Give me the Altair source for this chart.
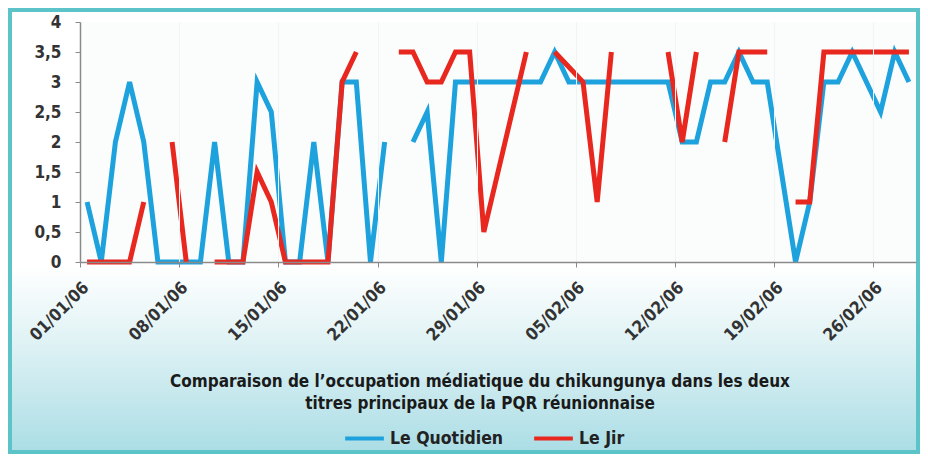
import altair as alt
import pandas as pd

# ---- data (one value per day, 01/01/06 .. 28/02/06) ----
start_day = "2006-01-01"
n_days = 59
quotidien = [1, 0, 2, 3, 2, 0, 0, 0, 0, 2,
             0, 0, 3, 2.5, 0, 0, 2, 0, 3, 3,
             0, 2, None, 2, 2.5, 0, 3, 3, 3, 3,
             3, 3, 3, 3.5, 3, 3, 3, 3, 3, 3,
             3, 3, 2, 2, 3, 3, 3.5, 3, 3, 1.5,
             0, 1, 3, 3, 3.5, 3, 2.5, 3.5, 3]
jir = [0, 0, 0, 0, 1, None, 2, 0, None, 0,
       0, 0, 1.5, 1, 0, 0, 0, 0, 3, 3.5,
       None, None, 3.5, 3.5, 3, 3, 3.5, 3.5, 0.5, 1.5,
       2.5, 3.5, None, 3.5, 3.25, 3, 1, 3.5, None, None,
       None, 3.5, 2, 3.5, None, 2, 3.5, 3.5, 3.5, None,
       1, 1, 3.5, 3.5, 3.5, 3.5, 3.5, 3.5, 3.5]
series_names = ["Le Quotidien", "Le Jir"]
series_colors = ["#1ea2dd", "#e8271f"]
tick_days = ["2006-01-01", "2006-01-08", "2006-01-15", "2006-01-22", "2006-01-29",
             "2006-02-05", "2006-02-12", "2006-02-19", "2006-02-26"]
title_lines = ["Comparaison de l\u2019occupation médiatique du chikungunya dans les deux",
               "titres principaux de la PQR réunionnaise"]

days = pd.date_range(start_day, periods=n_days, freq="D").strftime("%Y-%m-%d").tolist()
rows = []
for name, vals in zip(series_names, [quotidien, jir]):
    for d, v in zip(days, vals):
        rows.append({"jour": d, "valeur": v, "titre": name})
df = pd.DataFrame(rows)


def dt(s):
    y, m, d = (int(p) for p in s.split("-"))
    return alt.DateTime(year=y, month=m, date=d, utc=True)


FONT = "DejaVu Sans Condensed, Liberation Sans Narrow, sans-serif"
W, H = 836, 240
PAD = {"left": 72, "top": 14, "right": 4, "bottom": 192}

lines = alt.Chart(df).mark_line(strokeWidth=5, invalid="break-paths-filter-domains").encode(
    x=alt.X("utcyearmonthdate(jour):T", bandPosition=0.5,
            scale=alt.Scale(type="utc", domain=[dt("2006-01-01"), dt("2006-03-01")], nice=False),
            axis=alt.Axis(values=[dt(t) for t in tick_days],
                          labelExpr="utcFormat(datum.value, '%d/%m/%y')",
                          labelAngle=-45, labelAlign="right", labelBaseline="top",
                          labelFont=FONT, labelFontSize=17, labelFontWeight="bold",
                          labelColor="#333333", domainColor="#8a8a8a", domainWidth=1.5,
                          tickColor="#8a8a8a", tickSize=5, grid=True, gridColor="#eef3f4",
                          title=None, labelPadding=12, zindex=1)),
    y=alt.Y("valeur:Q",
            scale=alt.Scale(domain=[0, 4], nice=False),
            axis=alt.Axis(values=[0, 0.5, 1, 1.5, 2, 2.5, 3, 3.5, 4],
                          labelExpr="replace(format(datum.value, '.1~f'), '.', ',')",
                          labelFont=FONT, labelFontSize=17, labelFontWeight="bold",
                          labelColor="#333333", domainColor="#8a8a8a", domainWidth=1.5,
                          tickColor="#8a8a8a", tickSize=5, grid=False, title=None,
                          labelPadding=14, zindex=1)),
    color=alt.Color("titre:N",
                    scale=alt.Scale(domain=series_names, range=series_colors),
                    sort=series_names,
                    legend=alt.Legend(title=None, orient="none", direction="horizontal",
                                      legendX=263, legendY=395, symbolType="stroke",
                                      symbolSize=1500, symbolStrokeWidth=4,
                                      labelFont=FONT, labelFontSize=17.5, labelFontWeight="bold",
                                      labelColor="#222222", columnPadding=22, labelOffset=4,
                                      zindex=2)),
    detail="titre:N",
)

bg = alt.Chart(alt.Data(values=[{}])).mark_rect(
    fill=alt.LinearGradient(gradient="linear", x1=0, y1=0, x2=0, y2=1,
                            stops=[alt.GradientStop(color="#ffffff", offset=0),
                                   alt.GradientStop(color="#e4f4f6", offset=0.35),
                                   alt.GradientStop(color="#aadde5", offset=1)]),
).encode(x=alt.value(-72), x2=alt.value(W + 4), y=alt.value(H + 4), y2=alt.value(H + 192))

title = alt.Chart(alt.Data(values=[{}])).mark_text(
    font=FONT, fontSize=17, fontWeight="bold", color="#1a1a1a", lineHeight=22,
    align="center", baseline="top", lineBreak="\n",
).encode(x=alt.value(W / 2 - 18), y=alt.value(352), text=alt.value("\n".join(title_lines)))

frame = alt.Chart(alt.Data(values=[{}])).mark_rect(
    fill=None, stroke="#5cc3c9", strokeWidth=4,
).encode(x=alt.value(-70), x2=alt.value(W + 2), y=alt.value(-12), y2=alt.value(H + 190))

chart = alt.layer(bg, lines, title, frame).properties(
    width=W, height=H, padding=PAD, autosize=alt.AutoSizeParams(type="none"),
    background="#ffffff",
).configure_view(stroke=None, fill="#fbfdfd")

chart.save("out.html", embed_options={"renderer": "svg", "actions": False})
